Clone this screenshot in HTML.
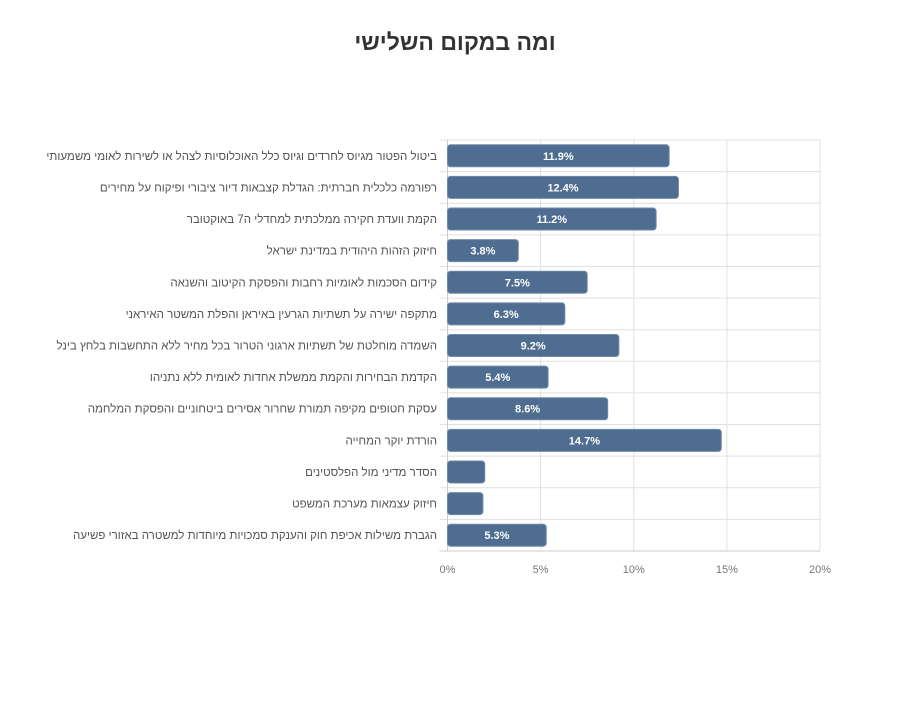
<!DOCTYPE html>
<html><head><meta charset="utf-8"><style>
body{margin:0;background:#fff;width:900px;height:700px;overflow:hidden}
svg{font-family:"Liberation Sans","DejaVu Sans",sans-serif}
</style></head><body>
<svg id="chart" width="900" height="700" xmlns="http://www.w3.org/2000/svg">
<text x="455" y="50" text-anchor="middle" font-size="23" font-weight="bold" fill="#333" direction="rtl">ומה במקום השלישי</text>
<g id="grid"></g><g id="bars"></g><g id="labels"></g>
</svg>
<script>
const categories=["ביטול הפטור מגיוס לחרדים וגיוס כלל האוכלוסיות לצהל או לשירות לאומי משמעותי","רפורמה כלכלית חברתית: הגדלת קצבאות דיור ציבורי ופיקוח על מחירים","הקמת וועדת חקירה ממלכתית למחדלי ה7 באוקטובר","חיזוק הזהות היהודית במדינת ישראל","קידום הסכמות לאומיות רחבות והפסקת הקיטוב והשנאה","מתקפה ישירה על תשתיות הגרעין באיראן והפלת המשטר האיראני","השמדה מוחלטת של תשתיות ארגוני הטרור בכל מחיר ללא התחשבות בלחץ בינל","הקדמת הבחירות והקמת ממשלת אחדות לאומית ללא נתניהו","עסקת חטופים מקיפה תמורת שחרור אסירים ביטחוניים והפסקת המלחמה","הורדת יוקר המחייה","הסדר מדיני מול הפלסטינים","חיזוק עצמאות מערכת המשפט","הגברת משילות אכיפת חוק והענקת סמכויות מיוחדות למשטרה באזורי פשיעה"];
const values=[11.9,12.4,11.2,3.8,7.5,6.3,9.2,5.4,8.6,14.7,2.0,1.9,5.3];
const valueLabels=["11.9%","12.4%","11.2%","3.8%","7.5%","6.3%","9.2%","5.4%","8.6%","14.7%","","","5.3%"];
const ticks=[0,5,10,15,20];
const tickLabels=["0%","5%","10%","15%","20%"];
const NS="http://www.w3.org/2000/svg";
const X0=447.5,X1=820,Y0=140,Y1=551;
const xs=v=>X0+(v/20)*(X1-X0);
const rowH=(Y1-Y0)/categories.length;
const ys=i=>Y0+i*rowH;
function mk(tag,attrs,parent){const e=document.createElementNS(NS,tag);for(const k in attrs)e.setAttribute(k,attrs[k]);parent.appendChild(e);return e;}
const grid=document.getElementById('grid'),bars=document.getElementById('bars'),labels=document.getElementById('labels');
ticks.forEach((t,i)=>{
  const l=mk('line',{x1:xs(t),x2:xs(t),y1:Y0,y2:Y1,stroke:'#e0e0e0','stroke-width':1},grid);
  
  
  const tx=mk('text',{x:xs(t),y:Y1+22,'text-anchor':'middle','font-size':11,fill:'#777'},grid);
  tx.textContent=tickLabels[i];
  
  
});
for(let i=0;i<=categories.length;i++){
  const l=mk('line',{x1:X0-8,x2:X1,y1:ys(i),y2:ys(i),stroke:i==categories.length?'#ccc':'#e0e0e0','stroke-width':1},grid);
  
  
}
mk('line',{x1:X0,x2:X0,y1:Y0,y2:Y1,stroke:'#ccc'},grid);
categories.forEach((c,i)=>{
  const cy=ys(i)+rowH/2;
  const r=mk('rect',{x:X0,y:cy-11,width:xs(values[i])-X0,height:22,rx:3,fill:'#4f6d90',stroke:'#6f89a8','stroke-width':1},bars);
  
  
  if(valueLabels[i]){
    const t=mk('text',{x:(X0+xs(values[i]))/2,y:cy+4,'text-anchor':'middle','font-size':11,'font-weight':'bold',fill:'#fff'},bars);
    t.textContent=valueLabels[i];
    
    
  }
  const lt=mk('text',{x:437,y:cy+4,'text-anchor':'start','font-size':11.5,fill:'#555',direction:'rtl'},labels);
  lt.textContent=c;
  
  
});
</script>
</body></html>
